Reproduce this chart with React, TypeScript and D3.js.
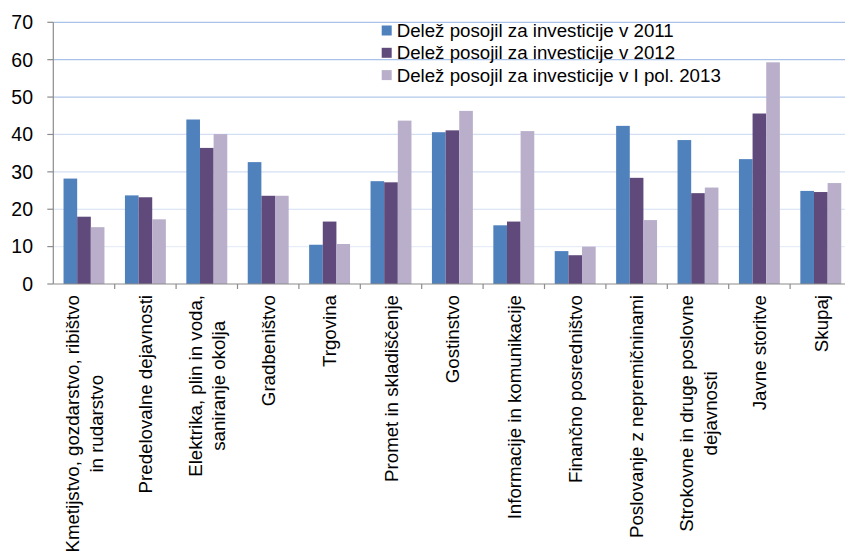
import React from "react";
import * as d3 from "d3";

const categories: string[][] = [
  ["Kmetijstvo, gozdarstvo, ribištvo", "in rudarstvo"],
  ["Predelovalne dejavnosti"],
  ["Elektrika, plin in voda,", "saniranje okolja"],
  ["Gradbeništvo"],
  ["Trgovina"],
  ["Promet in skladiščenje"],
  ["Gostinstvo"],
  ["Informacije in komunikacije"],
  ["Finančno posredništvo"],
  ["Poslovanje z nepremičninami"],
  ["Strokovne in druge poslovne", "dejavnosti"],
  ["Javne storitve"],
  ["Skupaj"],
];

const seriesNames = [
  "Delež posojil za investicije v 2011",
  "Delež posojil za investicije v 2012",
  "Delež posojil za investicije v I pol. 2013",
];

const values2011 = [28.2, 23.7, 44.0, 32.6, 10.5, 27.5, 40.6, 15.7, 8.8, 42.3, 38.5, 33.4, 24.9];
const values2012 = [18.0, 23.2, 36.4, 23.6, 16.7, 27.2, 41.1, 16.7, 7.7, 28.4, 24.3, 45.6, 24.6];
const values2013 = [15.2, 17.3, 40.1, 23.6, 10.7, 43.7, 46.3, 40.9, 10.0, 17.1, 25.8, 59.3, 27.0];

const yTicks = [0, 10, 20, 30, 40, 50, 60, 70];

const colors = ["#4f81bd", "#604a7b", "#b9afcb"];
const gridColors: Record<number, string> = {
  70: "#a9c2ea",
  60: "#a9c2ea",
  50: "#b3c9ec",
  40: "#d3dff3",
  30: "#d3dff3",
  20: "#d3dff3",
  10: "#e6edf8",
};

const W = 845;
const H = 551;
const FONT = "'Liberation Sans', Arial, sans-serif";
const FS = 18.7;

function measure(text: string): number {
  const c = document.createElement("canvas").getContext("2d");
  if (!c) return text.length * FS * 0.5;
  c.font = `${FS}px 'Liberation Sans', Arial, sans-serif`;
  return c.measureText(text).width;
}

export default function App() {
  const left = 53.3;
  const step = 61.4;
  const top = 22.3;
  const bottom = 284;
  const keys = categories.map((_, i) => String(i));
  const x0 = d3
    .scaleBand<string>()
    .domain(keys)
    .range([left, left + step * categories.length])
    .paddingInner(0)
    .paddingOuter(0);
  const x1 = d3
    .scaleBand<number>()
    .domain([0, 1, 2])
    .range([0, x0.bandwidth()])
    .paddingInner(0)
    .paddingOuter(0.75);
  const y = d3.scaleLinear().domain([0, 70]).range([bottom, top]);
  const series = [values2011, values2012, values2013];

  const lineH = 23.5;
  const labelTop = 295;

  return (
    <svg
      width={W}
      height={H}
      style={{ position: "absolute", left: 0, top: 0, background: "#fff" }}
      fontFamily={FONT}
    >
      {yTicks
        .filter((t) => t > 0)
        .map((t) => (
          <line
            key={"g" + t}
            x1={left}
            x2={W}
            y1={y(t)}
            y2={y(t)}
            stroke={gridColors[t]}
            strokeWidth={1.2}
          />
        ))}
      {series.map((vals, si) =>
        vals.map((v, ci) => (
          <rect
            key={`b${si}-${ci}`}
            x={(x0(String(ci)) as number) + (x1(si) as number)}
            y={y(v)}
            width={x1.bandwidth()}
            height={y(0) - y(v)}
            fill={colors[si]}
          />
        ))
      )}
      <line x1={left} x2={left} y1={top} y2={bottom} stroke="#8c8c8c" strokeWidth={1.2} />
      {yTicks.map((t) => (
        <g key={"t" + t}>
          <line x1={left - 6} x2={left} y1={y(t)} y2={y(t)} stroke="#8c8c8c" strokeWidth={1.2} />
          <text x={33} y={y(t)} dy="0.35em" textAnchor="end" fontSize={19.5} fill="#000">
            {t}
          </text>
        </g>
      ))}
      <line x1={left} x2={W} y1={bottom} y2={bottom} stroke="#8c8c8c" strokeWidth={1.2} />
      {keys.map((k) => (
        <line
          key={"xt" + k}
          x1={(x0(k) as number) + x0.bandwidth()}
          x2={(x0(k) as number) + x0.bandwidth()}
          y1={bottom}
          y2={bottom + 5}
          stroke="#8c8c8c"
          strokeWidth={1.2}
        />
      ))}
      {categories.map((lines, ci) => {
        const cx = (x0(String(ci)) as number) + x0.bandwidth() / 2;
        const maxW = Math.max(...lines.map(measure));
        const n = lines.length;
        return (
          <g key={"xl" + ci} transform={`translate(${cx},${labelTop}) rotate(-90)`}>
            {lines.map((ln, li) => (
              <text
                key={li}
                x={-maxW / 2}
                y={(li - (n - 1) / 2) * lineH + 6.8}
                textAnchor="middle"
                fontSize={FS}
                fill="#000"
              >
                {ln}
              </text>
            ))}
          </g>
        );
      })}
      {seriesNames.map((name, i) => {
        const cy = 30.5 + i * 22.3;
        return (
          <g key={"lg" + i}>
            <rect x={381.7} y={cy - 5} width={10} height={10} fill={colors[i]} />
            <text x={396.7} y={cy} dy="0.35em" fontSize={FS} fill="#000">
              {name}
            </text>
          </g>
        );
      })}
    </svg>
  );
}
